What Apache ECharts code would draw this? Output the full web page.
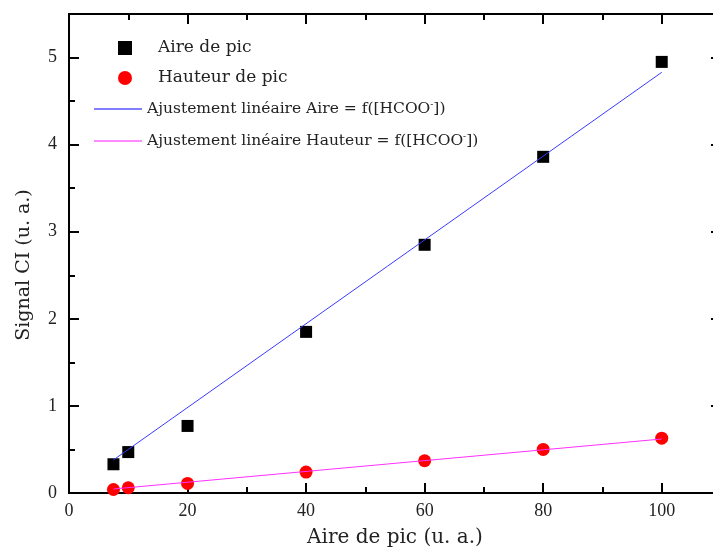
<!DOCTYPE html>
<html><head><meta charset="utf-8">
<script src="https://cdn.jsdelivr.net/npm/echarts@6/dist/echarts.min.js"></script>
<style>html,body{margin:0;padding:0;background:#fff}#c{width:713px;height:551px}</style>
</head><body><div id="c"></div>
<script>
const concentration = [7.5, 10, 20, 40, 60, 80, 100];
const aireValues = [0.33, 0.47, 0.77, 1.85, 2.85, 3.86, 4.95];
const hauteurValues = [0.04, 0.06, 0.11, 0.24, 0.37, 0.50, 0.63];
const fitX = [7.5, 100];
const fitAire = [0.38, 4.83];
const fitHauteur = [0.046, 0.62];
const xTickLabels = [0, 20, 40, 60, 80, 100];
const yTickLabels = [0, 1, 2, 3, 4, 5];
const nameAire = 'Aire de pic';
const nameHauteur = 'Hauteur de pic';
const nameFitAire = 'Ajustement linéaire Aire = f([HCOO-])';
const nameFitHauteur = 'Ajustement linéaire Hauteur = f([HCOO-])';

const FONT = "'Liberation Serif', serif";
const FONT2 = "'DejaVu Serif', serif";

function xAx(pos, interval, len, labels) {
  return {
    type: 'value', position: pos, min: 0, max: 110, interval: interval,
    axisLine: {show: true, onZero: false, lineStyle: {color: '#000', width: 2}},
    axisTick: {show: true, inside: true, length: len, lineStyle: {color: '#000', width: 2}},
    axisLabel: {show: labels, margin: 9, fontFamily: FONT, fontSize: 18, color: '#222',
      formatter: v => xTickLabels.includes(v) ? String(v) : ''},
    splitLine: {show: false},
    name: labels ? 'Aire de pic (u. a.)' : '', nameLocation: 'middle', nameGap: 35,
    nameTextStyle: {fontFamily: FONT2, fontSize: 20, color: '#222'}
  };
}
function yAx(pos, interval, len, labels) {
  return {
    type: 'value', position: pos, min: 0, max: 5.5, interval: interval,
    axisLine: {show: true, onZero: false, lineStyle: {color: '#000', width: 2}},
    axisTick: {show: true, inside: true, length: len, lineStyle: {color: '#000', width: 2}},
    axisLabel: {show: labels, margin: 12, fontFamily: FONT, fontSize: 18, color: '#222',
      formatter: v => yTickLabels.includes(v) ? String(v) : ''},
    splitLine: {show: false},
    name: labels ? 'Signal CI (u. a.)' : '', nameLocation: 'middle', nameGap: 35,
    nameTextStyle: {fontFamily: FONT2, fontSize: 19, color: '#222', padding: [0, 23, 0, 0]}
  };
}

function fmt(n) {
  return n.replace('-])', '{sup|-}])');
}

const chart = echarts.init(document.getElementById('c'), null, {renderer: 'canvas'});
chart.setOption({
  animation: false,
  backgroundColor: '#fff',
  grid: {left: 69, right: -8, top: 14, bottom: 58, outerBoundsMode: 'none'},
  xAxis: [xAx('bottom', 20, 10, true), xAx('bottom', 10, 6, false), xAx('top', 20, 10, false), xAx('top', 10, 6, false)],
  yAxis: [yAx('left', 1, 10, true), yAx('left', 0.5, 6, false), yAx('right', 1, 10, false), yAx('right', 0.5, 6, false)],
  legend: [
    {data: [{name: nameAire, icon: 'rect'}, {name: nameHauteur, icon: 'circle'}], orient: 'vertical', left: 118, top: 38,
     padding: 0, itemWidth: 14, itemHeight: 14, itemGap: 10,
     textStyle: {fontFamily: FONT2, fontSize: 17, color: '#222', lineHeight: 20, padding: [0, 0, 0, 21]}},
    {data: [{name: nameFitAire, icon: 'rect'}, {name: nameFitHauteur, icon: 'rect'}], orient: 'vertical', left: 94, top: 100,
     padding: 0, itemWidth: 48, itemHeight: 1.5, itemGap: 14,
     formatter: fmt,
     textStyle: {fontFamily: FONT2, fontSize: 15.5, color: '#222', lineHeight: 18,
       rich: {sup: {fontFamily: FONT2, fontSize: 9, color: '#222', padding: [0, 0, 8, 0]}}}}
  ],
  series: [
    {name: nameAire, type: 'scatter', symbol: 'rect', symbolSize: 12, itemStyle: {color: '#000', opacity: 1},
     data: concentration.map((x, i) => [x, aireValues[i]])},
    {name: nameHauteur, type: 'scatter', symbol: 'circle', symbolSize: 13, itemStyle: {color: '#ff0000', opacity: 1},
     data: concentration.map((x, i) => [x, hauteurValues[i]])},
    {name: nameFitAire, type: 'line', symbol: 'none', lineStyle: {color: '#3b3bff', width: 1}, itemStyle: {color: '#5555ff'},
     data: fitX.map((x, i) => [x, fitAire[i]]), z: 3},
    {name: nameFitHauteur, type: 'line', symbol: 'none', lineStyle: {color: '#ff30ff', width: 1}, itemStyle: {color: '#ff66ff'},
     data: fitX.map((x, i) => [x, fitHauteur[i]]), z: 3}
  ]
});
</script></body></html>
